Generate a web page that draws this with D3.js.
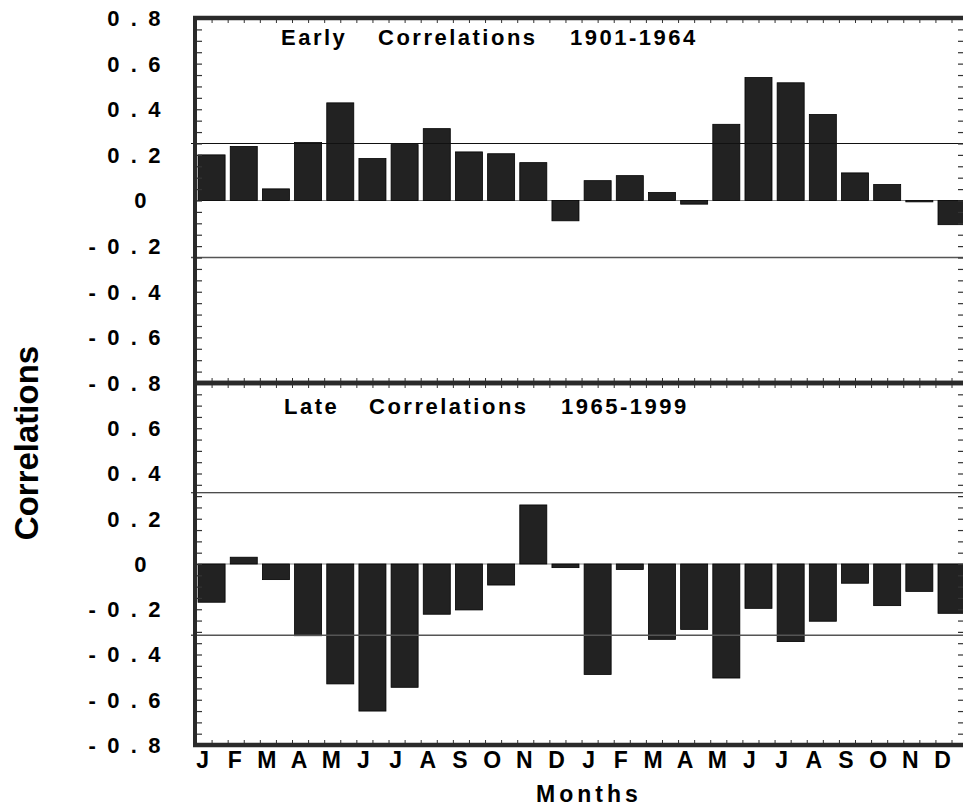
<!DOCTYPE html>
<html><head><meta charset="utf-8">
<script src="https://cdn.jsdelivr.net/npm/d3@7"></script>
<style>
body{margin:0;background:#fff}
svg{display:block;background:#fff}
text{font-family:"Liberation Sans",Arial,Helvetica,sans-serif;font-weight:bold;fill:#000}
</style>
</head><body><svg id="chart" width="963" height="807"></svg>
<script>
// ---- data ----
const months = ["J","F","M","A","M","J","J","A","S","O","N","D","J","F","M","A","M","J","J","A","S","O","N","D"];
const earlyValues = [0.200,0.237,0.051,0.254,0.428,0.184,0.245,0.315,0.213,0.205,0.166,-0.089,
                     0.087,0.109,0.035,-0.016,0.334,0.539,0.516,0.377,0.121,0.070,-0.006,-0.106];
const lateValues  = [-0.169,0.030,-0.069,-0.317,-0.530,-0.650,-0.545,-0.222,-0.203,-0.093,0.261,-0.016,
                     -0.488,-0.024,-0.333,-0.289,-0.504,-0.196,-0.343,-0.253,-0.085,-0.184,-0.121,-0.218];
const earlyTickValues = [-0.8,-0.6,-0.4,-0.2,0,0.2,0.4,0.6,0.8];
const earlyTickLabels = ["- 0 . 8","- 0 . 6","- 0 . 4","- 0 . 2","0","0 . 2","0 . 4","0 . 6","0 . 8"];
const lateTickValues = [-0.8,-0.6,-0.4,-0.2,0,0.2,0.4,0.6];
const lateTickLabels = ["- 0 . 8","- 0 . 6","- 0 . 4","- 0 . 2","0","0 . 2","0 . 4","0 . 6"];
const earlyTitle = ["Early","Correlations","1901-1964"];
const lateTitle  = ["Late","Correlations","1965-1999"];
const earlyThreshold = 0.25;
const lateThreshold = 0.315;
const yLabel = "Correlations";
const xLabel = "Months";

// ---- drawing ----
const svg = d3.select("#chart");
const left = 195.5, right = 967.6, axisRightX = 963;
const x = d3.scaleBand().domain(d3.range(months.length)).range([left, right])
  .paddingInner(0.16).paddingOuter(0.08);
const xHalf = d3.scaleLinear().domain([0, months.length*2]).range([left, right]);
const halfTicks = d3.range(1, months.length*2);
const minorY = d3.range(-16, 17).map(d => d*0.05);

const panels = [
  {values: earlyValues, thr: earlyThreshold, title: earlyTitle, tv: earlyTickValues, tl: earlyTickLabels,
   y: d3.scaleLinear().domain([-0.8,0.8]).range([383,18]), titleX: [281, 378, 570], titleY: 45},
  {values: lateValues, thr: lateThreshold, title: lateTitle, tv: lateTickValues, tl: lateTickLabels,
   y: d3.scaleLinear().domain([-0.8,0.8]).range([745,383]), titleX: [284, 369, 561], titleY: 414}
];

panels.forEach((p, pi) => {
  const g = svg.append("g");
  const y = p.y;
  const [yb, yt] = y.range();
  g.append("line").attr("x1", left).attr("x2", 963).attr("y1", y(0)).attr("y2", y(0))
    .attr("stroke", "#888").attr("stroke-width", 1);
  g.selectAll("rect.bar").data(p.values).join("rect").attr("class","bar")
    .attr("x", (d,i) => x(i)).attr("width", x.bandwidth())
    .attr("y", d => y(Math.max(0,d))).attr("height", d => Math.max(1, Math.abs(y(d)-y(0))))
    .attr("fill", "#222").attr("stroke", "#000").attr("stroke-width", 0.8);
  g.append("line").attr("x1", 191).attr("x2", 963).attr("y1", y(p.thr)).attr("y2", y(p.thr))
    .attr("stroke", "#111").attr("stroke-width", 1.1);
  g.append("line").attr("x1", 191).attr("x2", 963).attr("y1", y(-p.thr)).attr("y2", y(-p.thr))
    .attr("stroke", "#555").attr("stroke-width", 1.4);
  g.append("g").attr("transform", `translate(196,0)`)
    .call(d3.axisRight(y).tickValues(minorY).tickSize(6).tickFormat(""))
    .call(a => a.select(".domain").remove())
    .call(a => a.selectAll("line").attr("stroke","#333").attr("stroke-width",1.2));
  g.append("g").attr("transform", `translate(${axisRightX},0)`)
    .call(d3.axisLeft(y).tickValues(minorY).tickSize(5).tickFormat(""))
    .call(a => a.select(".domain").remove())
    .call(a => a.selectAll("line").attr("stroke","#333").attr("stroke-width",1.2));
  g.append("g").attr("transform", `translate(0,${yt})`)
    .call(d3.axisBottom(xHalf).tickValues(halfTicks).tickSize(5).tickFormat(""))
    .call(a => a.select(".domain").remove())
    .call(a => a.selectAll("line").attr("stroke","#333"));
  g.append("g").attr("transform", `translate(0,${yb})`)
    .call(d3.axisTop(xHalf).tickValues(halfTicks).tickSize(5).tickFormat(""))
    .call(a => a.select(".domain").remove())
    .call(a => a.selectAll("line").attr("stroke","#333"));
  g.selectAll("text.yl").data(p.tv).join("text").attr("class","yl")
    .attr("x", d => d === 0 ? 149 : 163)
    .attr("y", d => y(d)).attr("dy", "0.36em")
    .attr("text-anchor", "end").attr("font-size", 22)
    .style("letter-spacing", "2.6px").style("white-space","pre")
    .text((d,i) => p.tl[i]);
  const t = g.append("text").attr("font-size", 22).style("letter-spacing","2.5px");
  p.title.forEach((s, k) => t.append("tspan").attr("x", p.titleX[k]).attr("y", p.titleY).text(s));
  g.append("line").attr("x1", 193).attr("x2", 963).attr("y1", yt).attr("y2", yt)
    .attr("stroke", "#2a2a2a").attr("stroke-width", 4.5);
  g.append("line").attr("x1", 193).attr("x2", 963).attr("y1", yb).attr("y2", yb)
    .attr("stroke", "#2a2a2a").attr("stroke-width", 4.5);
});
svg.append("line").attr("x1", 195).attr("x2", 195).attr("y1", 16).attr("y2", 747)
  .attr("stroke", "#2a2a2a").attr("stroke-width", 4);

svg.selectAll("text.month").data(months).join("text").attr("class","month")
  .attr("x", (d,i) => x(i) + x.bandwidth()/2 - 9).attr("y", 767.5)
  .attr("text-anchor","middle").attr("font-size", 23).text(d => d);

svg.append("text").attr("x", 589).attr("y", 801.5).attr("text-anchor","middle")
  .attr("font-size", 23).style("letter-spacing","4px").text(xLabel);
svg.append("text").attr("transform","translate(37.5,443) rotate(-90)").attr("text-anchor","middle")
  .attr("font-size", 33).text(yLabel);
</script>
</body></html>
